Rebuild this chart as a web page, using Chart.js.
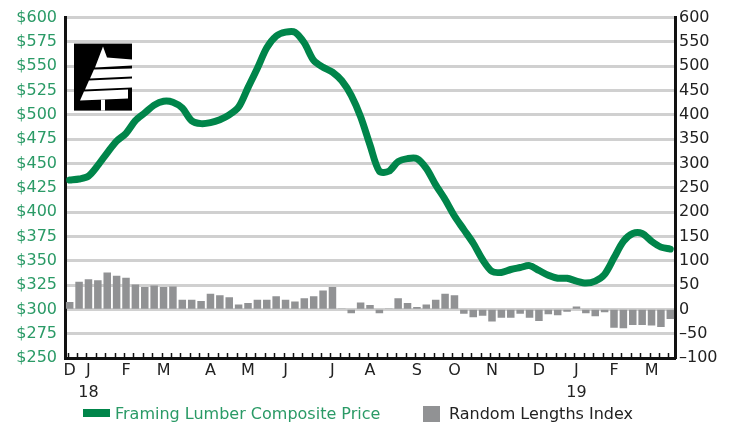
<!DOCTYPE html>
<html>
<head>
<meta charset="utf-8">
<script src="https://cdn.jsdelivr.net/npm/chart.js@4.4.1/dist/chart.umd.min.js"></script>
<style>
  html, body { margin: 0; padding: 0; background: #fff; }
  #wrap { position: relative; width: 739px; height: 428px; font-family: 'DejaVu Sans', sans-serif; font-size: 16px; }
  #lumber-chart { position: absolute; left: 0; top: 0; }
  .legend-item { position: absolute; top: 406px; line-height: 16px; white-space: nowrap; }
  .swatch { position: absolute; }
</style>
</head>
<body>
<div id="wrap">
  <canvas id="lumber-chart" width="739" height="428"></canvas>
  <span class="swatch" style="left:83px; top:409px; width:27px; height:8px; background:#00854a;"></span>
  <span class="legend-item" style="left:115px; color:#2a9a66;">Framing Lumber Composite Price</span>
  <span class="swatch" style="left:423px; top:406px; width:17px; height:16px; background:#919294;"></span>
  <span class="legend-item" style="left:449px; color:#222;">Random Lengths Index</span>
</div>
<script>
// weekly data, Dec 2017 - Mar 2019
const monthLetters = ['D', 'J', 'F', 'M', 'A', 'M', 'J', 'J', 'A', 'S', 'O', 'N', 'D', 'J', 'F', 'M'];
const monthWeek = [0, 2, 6, 10, 15, 19, 23, 28, 32, 37, 41, 45, 50, 54, 58, 62];
const yearLabels = { 2: '18', 54: '19' };

// Framing Lumber Composite Price ($)
const compositePrice = [
    433, 434, 437, 448, 461, 473, 481, 494, 502, 510,
    514, 513, 507, 494, 491, 492, 495, 500, 508, 528,
    548, 569, 581, 585, 585, 574, 556, 549, 544, 535,
    520, 498, 469, 442, 442, 452, 455, 455, 445, 428,
    413, 396, 382, 368, 351, 339, 338, 341, 343, 345,
    340, 335, 332, 332, 329, 327, 329, 336, 353, 370,
    378, 378, 370, 364, 362
];

// Random Lengths Index (weekly change)
const randomLengthsIndex = [
    15, 57, 62, 60, 76, 69, 65, 51, 46, 49, 46, 47, 20, 20, 17, 32, 29,
    25, 10, 13, 20, 20, 27, 20, 16, 23, 27, 39, 46, 2, -8, 14, 9,
    -8, 1, 23, 13, 5, 10, 20, 32, 29, -9, -16, -13, -25, -17, -17,
    -9, -17, -24, -10, -12, -5, 6, -8, -14, -6,
    -38, -39, -32, -32, -33, -36, -20
];

const green = '#00854a';
const labelGreen = '#2a9a66';
const barGray = '#919294';
const axisBlack = '#111';
const gridGray = '#d0d0d0';

// one label per week, month letter only where the month starts
const weekLabels = compositePrice.map((v, i) => {
    const m = monthWeek.indexOf(i);
    if (m < 0) return '';
    return yearLabels[i] ? [monthLetters[m], yearLabels[i]] : monthLetters[m];
});

const extras = {
    id: 'extras',
    afterDraw(chart) {
        const ctx = chart.ctx;
        const a = chart.chartArea;
        const x = chart.scales.x;
        ctx.save();
        // short week ticks pointing into the plot
        ctx.strokeStyle = axisBlack;
        ctx.lineWidth = 1.5;
        ctx.beginPath();
        for (let i = 0; i < x.ticks.length; i++) {
            const px = Math.round(x.getPixelForTick(i) - 2) + 0.5;
            ctx.moveTo(px, a.bottom);
            ctx.lineTo(px, a.bottom - 5);
        }
        ctx.stroke();

        // Random Lengths logo
        const lx = a.left + 9, ly = a.top + 26;
        ctx.fillStyle = '#000';
        ctx.fillRect(lx, ly, 58, 67);
        ctx.fillStyle = '#fff';
        const tiers = [
            [[29, 3], [33, 14], [58, 16], [58, 22], [21, 24]],
            [[20, 26], [58, 25], [58, 33], [16, 35]],
            [[15, 37], [58, 35], [58, 44], [11, 46]],
            [[10, 48], [54, 46], [54, 55], [6, 57]]
        ];
        tiers.forEach(t => {
            ctx.beginPath();
            t.forEach((p, k) => k ? ctx.lineTo(lx + p[0], ly + p[1]) : ctx.moveTo(lx + p[0], ly + p[1]));
            ctx.closePath();
            ctx.fill();
        });
        ctx.fillRect(lx + 27, ly + 56, 4, 11);
        ctx.restore();
    }
};

new Chart(document.getElementById('lumber-chart'), {
    type: 'bar',
    data: {
        labels: weekLabels,
        datasets: [{
            type: 'line',
            label: 'Framing Lumber Composite Price',
            data: compositePrice,
            yAxisID: 'y',
            borderColor: green,
            backgroundColor: green,
            borderWidth: 7,
            pointRadius: 0,
            tension: 0.3,
            borderCapStyle: 'round',
            order: 0
        }, {
            label: 'Random Lengths Index',
            data: randomLengthsIndex,
            yAxisID: 'y2',
            backgroundColor: barGray,
            barPercentage: 0.8,
            categoryPercentage: 1.0,
            order: 1
        }]
    },
    options: {
        responsive: false,
        animation: false,
        devicePixelRatio: 1,
        layout: {
            padding: { top: 17, left: 0, right: 0, bottom: 0 }
        },
        plugins: {
            legend: { display: false },
            tooltip: { enabled: false }
        },
        scales: {
            x: {
                ticks: {
                    autoSkip: false,
                    maxRotation: 0,
                    color: '#222',
                    padding: 2,
                    font: { family: 'DejaVu Sans', size: 16, lineHeight: 1.35 }
                },
                grid: { display: false, drawTicks: false },
                border: { display: true, color: axisBlack, width: 3 },
                afterFit: (s) => { s.height = 70; }
            },
            y: {
                position: 'left',
                min: 250,
                max: 600,
                ticks: {
                    stepSize: 25,
                    color: labelGreen,
                    padding: 8,
                    font: { family: 'DejaVu Sans', size: 16 },
                    callback: (v) => '$' + v
                },
                grid: { color: gridGray, lineWidth: 3, drawTicks: false },
                border: { display: true, color: axisBlack, width: 3 },
                afterFit: (s) => { s.width = 65; }
            },
            y2: {
                position: 'right',
                min: -100,
                max: 600,
                ticks: {
                    stepSize: 50,
                    color: '#222',
                    padding: 4,
                    font: { family: 'DejaVu Sans', size: 16 },
                    callback: (v) => v < 0 ? '\u2013' + Math.abs(v) : '' + v
                },
                grid: { drawOnChartArea: false, drawTicks: false },
                border: { display: true, color: axisBlack, width: 3 },
                afterFit: (s) => { s.width = 64; }
            }
        }
    },
    plugins: [extras]
});
</script>
</body>
</html>
